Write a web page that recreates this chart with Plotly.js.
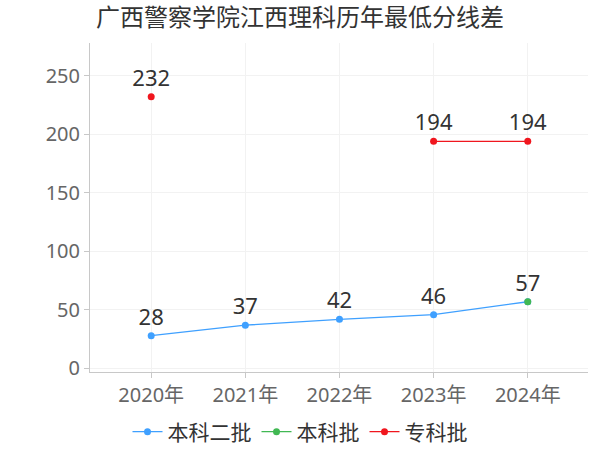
<!DOCTYPE html>
<html>
<head>
<meta charset="utf-8">
<script src="https://cdn.plot.ly/plotly-3.0.1.min.js"></script>
<style>html,body{margin:0;padding:0;background:#fff;}#chart{width:600px;height:450px;}</style>
</head>
<body>
<div id="chart"></div>
<script>
const years = ["2020年", "2021年", "2022年", "2023年", "2024年"];
const benke2 = [28, 37, 42, 46, 57];
const benke = [null, null, null, null, 57];
const zhuanke = [232, null, null, 194, 194];
const seriesNames = ["本科二批", "本科批", "专科批"];
const yTicks = [0, 50, 100, 150, 200, 250];

const FONT = "Noto Sans, Noto Sans CJK SC, sans-serif";
const lbl = arr => arr.map(v => v === null ? "" : String(v));

const traces = [
  {
    x: years, y: benke2, name: seriesNames[0], type: "scatter", mode: "lines+markers+text",
    line: {color: "#3fa0ff", width: 1.3}, marker: {color: "#3fa0ff", size: 7},
    text: lbl(benke2), textposition: "top center", textfont: {size: 22, color: "#333", family: FONT},
    cliponaxis: false, connectgaps: false
  },
  {
    x: years, y: benke, name: seriesNames[1], type: "scatter", mode: "lines+markers",
    line: {color: "#41b853", width: 1.3}, marker: {color: "#41b853", size: 7},
    cliponaxis: false, connectgaps: false
  },
  {
    x: years, y: zhuanke, name: seriesNames[2], type: "scatter", mode: "lines+markers+text",
    line: {color: "#f0161e", width: 1.3}, marker: {color: "#f0161e", size: 7},
    text: lbl(zhuanke), textposition: "top center", textfont: {size: 22, color: "#333", family: FONT},
    cliponaxis: false, connectgaps: false
  }
];

const layout = {
  width: 600, height: 450,
  margin: {l: 90, r: 12, t: 43, b: 78, autoexpand: false},
  paper_bgcolor: "#fff", plot_bgcolor: "#fff",
  font: {family: FONT, color: "#333"},
  title: {text: "广西警察学院江西理科历年最低分线差", x: 0.5, xanchor: "center", xref: "container",
          y: 0.96, yanchor: "middle", yref: "container", font: {size: 24, color: "#333", family: FONT}},
  xaxis: {
    type: "category", range: [-0.65, 4.64],
    showgrid: true, gridcolor: "#f2f2f2", gridwidth: 1,
    showline: true, linecolor: "#c8c8c8", linewidth: 1,
    ticks: "outside", ticklen: 5, tickcolor: "#c8c8c8",
    tickfont: {size: 20, color: "#666", family: FONT}, zeroline: false, fixedrange: true
  },
  yaxis: {
    range: [-3, 278], tickvals: yTicks,
    showgrid: true, gridcolor: "#f2f2f2", gridwidth: 1,
    showline: true, linecolor: "#c8c8c8", linewidth: 1,
    ticks: "outside", ticklen: 5, tickcolor: "#c8c8c8",
    tickfont: {size: 20, color: "#666", family: FONT}, zeroline: false, fixedrange: true
  },
  showlegend: true,
  legend: {orientation: "h", x: 0.5, xanchor: "center", xref: "container",
           y: 0.04, yanchor: "middle", yref: "container",
           font: {size: 21, color: "#333", family: FONT}, itemwidth: 30, tracegroupgap: 0}
};

Plotly.newPlot("chart", traces, layout, {displayModeBar: false, staticPlot: true});
</script>
</body>
</html>
